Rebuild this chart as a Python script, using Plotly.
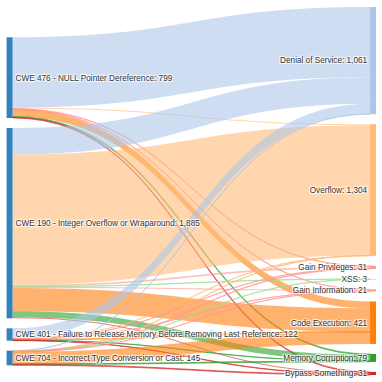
import plotly.graph_objects as go

# 节点
sources = [
    "CWE 476 - NULL Pointer Dereference",
    "CWE 190 - Integer Overflow or Wraparound",
    "CWE 401 - Failure to Release Memory Before Removing Last Reference",
    "CWE 704 - Incorrect Type Conversion or Cast",
]
targets = [
    "Denial of Service",
    "Overflow",
    "Gain Privileges",
    "XSS",
    "Gain Information",
    "Code Execution",
    "Memory Corruption",
    "Bypass Something",
]
target_colors = [
    "#aec7e8", "#ffbb78", "#ff9896", "#98df8a",
    "#ff9896", "#ff7f0e", "#2ca02c", "#d62728",
]
source_color = "#3182bd"

# 每个来源到每个目标的数量（按 targets 顺序）
flows = {
    "CWE 476 - NULL Pointer Dereference": [695, 10, 6, 0, 4, 68, 8, 8],
    "CWE 190 - Integer Overflow or Wraparound": [262, 1290, 18, 2, 12, 230, 60, 11],
    "CWE 401 - Failure to Release Memory Before Removing Last Reference": [102, 1, 3, 0, 3, 6, 3, 4],
    "CWE 704 - Incorrect Type Conversion or Cast": [2, 3, 4, 1, 2, 117, 8, 8],
}

# 节点位置（归一化中心点，布局用）
src_x, tgt_x = 0.007, 0.992
src_y = [0.192, 0.586, 0.888, 0.950]
tgt_y = [0.1457, 0.497, 0.707, 0.739, 0.7695, 0.857, 0.953, 0.995]


def rgba(hex_color, alpha):
    h = hex_color.lstrip("#")
    r, g, b = int(h[0:2], 16), int(h[2:4], 16), int(h[4:6], 16)
    return f"rgba({r},{g},{b},{alpha})"


src_idx, tgt_idx, vals, link_colors = [], [], [], []
for i, s in enumerate(sources):
    for j, v in enumerate(flows[s]):
        if v <= 0:
            continue
        src_idx.append(i)
        tgt_idx.append(len(sources) + j)
        vals.append(v)
        link_colors.append(rgba(target_colors[j], 0.6))

src_tot = [sum(flows[s]) for s in sources]
tgt_tot = [sum(flows[s][j] for s in sources) for j in range(len(targets))]

labels = [f"{n}: {v:,}" for n, v in zip(sources, src_tot)] + [
    f"{n}: {v:,}" for n, v in zip(targets, tgt_tot)
]
node_colors = [source_color] * len(sources) + target_colors

fig = go.Figure(
    go.Sankey(
        arrangement="snap",
        node=dict(
            label=labels,
            color=node_colors,
            pad=10,
            thickness=6,
            line=dict(width=0),
            x=[src_x] * len(sources) + [tgt_x] * len(targets),
            y=src_y + tgt_y,
        ),
        link=dict(source=src_idx, target=tgt_idx, value=vals, color=link_colors),
        textfont=dict(family="Liberation Sans, Arial", size=8.2, color="#333"),
    )
)

fig.update_layout(
    width=382,
    height=382,
    margin=dict(l=7, r=6, t=7, b=7),
    paper_bgcolor="white",
    showlegend=False,
)

fig.write_html(
    "out.html",
    config={"displayModeBar": False},
    post_script="document.body.style.margin='0';",
)
